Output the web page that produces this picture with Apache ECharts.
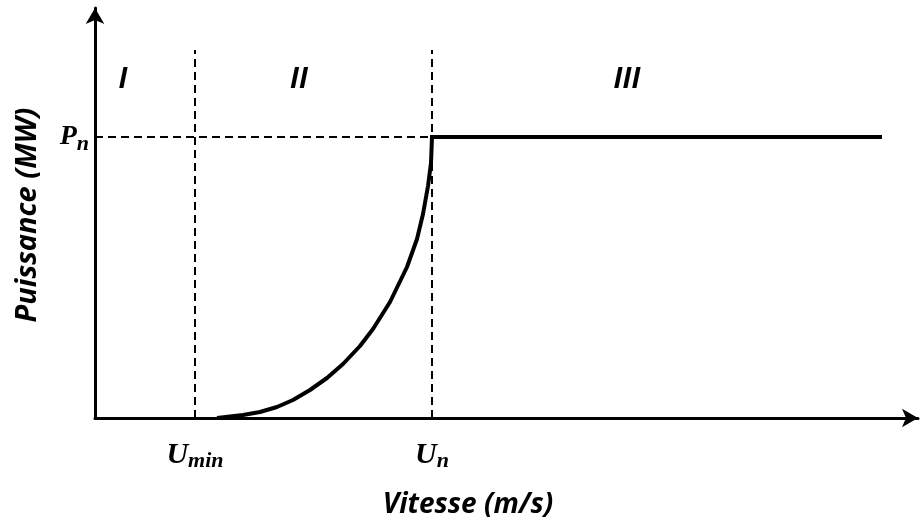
<!DOCTYPE html>
<html><head><meta charset="utf-8">
<script src="https://cdn.jsdelivr.net/npm/echarts@6/dist/echarts.min.js"></script>
<style>html,body{margin:0;padding:0;background:#fff}#c{width:922px;height:524px}</style>
</head><body><div id="c"></div>
<script>
// Curve (region II) — speed / power in arbitrary units
const speedCurve = [122, 148, 165, 182, 198, 215, 232, 248, 265, 278, 295, 312, 322, 328, 333, 336, 337];
const powerCurve = [0, 3, 6, 11, 18, 28, 40, 54, 72, 89, 116, 151, 179, 204, 232, 255, 281];
// Region III plateau
const speedFlat = [337, 785];
const powerFlat = [281, 281];
// Reference values
const uMin = 100;
const uN = 337;
const pN = 281;
const dashTop = 368;
const xMax = 823;
const yMax = 410;
// Region labels
const regionNames = ['I', 'II', 'III'];
const regionX = [28, 204, 532];
const regionY = [338, 338, 338];

const chart = echarts.init(document.getElementById('c'));
const black = '#000';
const dash = {color: black, width: 2, type: [8, 5]};

const curveData = speedCurve.map((x, i) => [x, powerCurve[i]]);
const flatData = speedFlat.map((x, i) => [x, powerFlat[i]]);

chart.setOption({
  animation: false,
  backgroundColor: '#fff',
  grid: {left: 95, right: 4, top: 8, bottom: 106},
  xAxis: {
    type: 'value', min: 0, max: xMax,
    splitLine: {show: false},
    axisTick: {show: false},
    axisLine: {lineStyle: {color: black, width: 3}, symbol: ['none', 'arrow'], symbolSize: [14, 16]},
    axisLabel: {
      customValues: [uMin, uN],
      margin: 20,
      formatter: v => v === uMin ? '{u|U}{s|min}' : '{u|U}{s|n}',
      rich: {
        u: {fontFamily: 'Liberation Serif', fontWeight: 'bold', fontStyle: 'italic', fontSize: 30, color: black},
        s: {fontFamily: 'Liberation Serif', fontWeight: 'bold', fontStyle: 'italic', fontSize: 22, color: black, padding: [12, 0, 0, 0]}
      }
    }
  },
  yAxis: {
    type: 'value', min: 0, max: yMax,
    splitLine: {show: false},
    axisTick: {show: false},
    axisLine: {lineStyle: {color: black, width: 3}, symbol: ['none', 'arrow'], symbolSize: [14, 16]},
    axisLabel: {
      customValues: [pN],
      margin: 6,
      formatter: () => '{p|P}{s|n}',
      rich: {
        p: {fontFamily: 'Liberation Serif', fontWeight: 'bold', fontStyle: 'italic', fontSize: 28, color: black},
        s: {fontFamily: 'Liberation Serif', fontWeight: 'bold', fontStyle: 'italic', fontSize: 22, color: black, padding: [14, 0, 0, 0]}
      }
    }
  },
  series: [
    {type: 'line', data: [[uMin, 0], [uMin, dashTop]], symbol: 'none', lineStyle: dash, z: 1},
    {type: 'line', data: [[uN, 0], [uN, dashTop]], symbol: 'none', lineStyle: dash, z: 1},
    {type: 'line', data: [[0, pN], [uN, pN]], symbol: 'none', lineStyle: dash, z: 1},
    {type: 'line', data: curveData, symbol: 'none', smooth: false, lineStyle: {color: black, width: 4, join: 'round'}, z: 3},
    {type: 'line', data: flatData, symbol: 'none', lineStyle: {color: black, width: 4, cap: 'square'}, z: 3},
    {type: 'scatter', symbolSize: 0, itemStyle: {color: black, opacity: 1},
      data: regionNames.map((n, i) => ({value: [regionX[i], regionY[i]], name: n})),
      label: {show: true, position: 'inside', formatter: p => p.name, opacity: 1,
        fontFamily: 'Open Sans', fontWeight: 'bold', fontStyle: 'italic', fontSize: 28, color: '#000', textBorderWidth: 0}
    }
  ],
  graphic: [
    {type: 'text', x: 468, y: 505, style: {text: 'Vitesse (m/s)', fontFamily: 'Open Sans', fontWeight: 'bold', fontStyle: 'italic', fontSize: 28, fill: black, align: 'center', verticalAlign: 'middle'}},
    {type: 'text', rotation: Math.PI / 2, x: 28, y: 215, style: {text: 'Puissance (MW)', fontFamily: 'Open Sans', fontWeight: 'bold', fontStyle: 'italic', fontSize: 29, fill: black, align: 'center', verticalAlign: 'middle'}}
  ]
});
</script></body></html>
